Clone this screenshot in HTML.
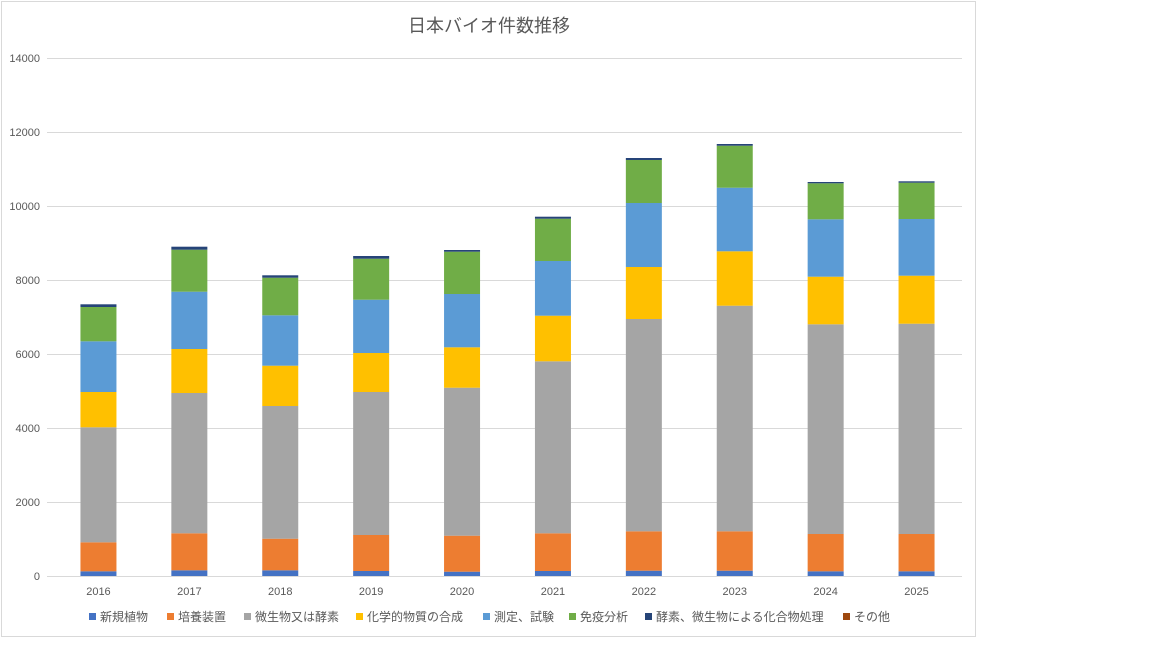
<!DOCTYPE html>
<html><head><meta charset="utf-8"><style>
html,body{margin:0;padding:0;background:#fff;}
svg{display:block;}
text{font-family:"Liberation Sans","Noto Sans CJK JP",sans-serif;fill:#595959;}
</style></head><body>
<svg width="1152" height="648" viewBox="0 0 1152 648" xmlns="http://www.w3.org/2000/svg">
<rect x="0" y="0" width="1152" height="648" fill="#fff"/>
<rect x="1.5" y="1.5" width="974" height="635" fill="#fff" stroke="#d9d9d9" stroke-width="1"/>
<text x="489" y="32" font-size="18" text-anchor="middle">日本バイオ件数推移</text>
<g stroke="#d9d9d9" stroke-width="1">
<line x1="47" x2="962" y1="58.5" y2="58.5"/>
<line x1="47" x2="962" y1="132.5" y2="132.5"/>
<line x1="47" x2="962" y1="206.5" y2="206.5"/>
<line x1="47" x2="962" y1="280.5" y2="280.5"/>
<line x1="47" x2="962" y1="354.5" y2="354.5"/>
<line x1="47" x2="962" y1="428.5" y2="428.5"/>
<line x1="47" x2="962" y1="502.5" y2="502.5"/>
<line x1="47" x2="962" y1="576.5" y2="576.5"/>
</g>
<g font-size="11" text-anchor="end">
<text x="40" y="62">14000</text>
<text x="40" y="136">12000</text>
<text x="40" y="210">10000</text>
<text x="40" y="284">8000</text>
<text x="40" y="358">6000</text>
<text x="40" y="432">4000</text>
<text x="40" y="506">2000</text>
<text x="40" y="580">0</text>
</g>
<g id="bars"></g>
<g font-size="11" text-anchor="middle" id="xl"></g>
<g font-size="12">
<rect x="89" y="613" width="7" height="7" fill="#4472c4"/><text x="100" y="621">新規植物</text>
<rect x="167" y="613" width="7" height="7" fill="#ed7d31"/><text x="178" y="621">培養装置</text>
<rect x="244" y="613" width="7" height="7" fill="#a5a5a5"/><text x="255" y="621">微生物又は酵素</text>
<rect x="356" y="613" width="7" height="7" fill="#ffc000"/><text x="367" y="621">化学的物質の合成</text>
<rect x="483" y="613" width="7" height="7" fill="#5b9bd5"/><text x="494" y="621">測定、試験</text>
<rect x="569" y="613" width="7" height="7" fill="#70ad47"/><text x="580" y="621">免疫分析</text>
<rect x="645" y="613" width="7" height="7" fill="#264478"/><text x="656" y="621">酵素、微生物による化合物処理</text>
<rect x="843" y="613" width="7" height="7" fill="#9e480e"/><text x="854" y="621">その他</text>
</g>
<script>
var d=[
[571.3,542.3,427.3,392,341.3,307,304.3],
[570.3,533.3,393,349,291.7,249.7,246.7],
[570.3,538.7,406,365.7,315.3,277.7,275.3],
[571,535,392,353,299.7,258.7,256],
[571.7,535.7,387.7,347.3,294,251.7,250],
[571,533.3,361.3,315.7,261,218.7,216.7],
[570.7,531.3,319,267,203,160,158],
[570.7,531.3,305.7,251.3,187.7,145.7,144],
[571.3,534,324.3,276.7,219.3,183.3,182],
[571.3,534,323.7,275.7,219,182.7,181.3]];
var c=["#4472c4","#ed7d31","#a5a5a5","#ffc000","#5b9bd5","#70ad47","#264478"];
var ns="http://www.w3.org/2000/svg",g=document.getElementById("bars"),xl=document.getElementById("xl");
for(var i=0;i<10;i++){var cx=53+90.9*(i+0.5),x=cx-18,prev=576;
for(var j=0;j<7;j++){var r=document.createElementNS(ns,"rect");r.setAttribute("x",x);r.setAttribute("width",36);
r.setAttribute("y",d[i][j]);r.setAttribute("height",prev-d[i][j]);r.setAttribute("fill",c[j]);g.appendChild(r);prev=d[i][j];}
var t=document.createElementNS(ns,"text");t.setAttribute("x",cx);t.setAttribute("y",595);t.textContent=2016+i;xl.appendChild(t);}
</script>
</svg>
</body></html>
